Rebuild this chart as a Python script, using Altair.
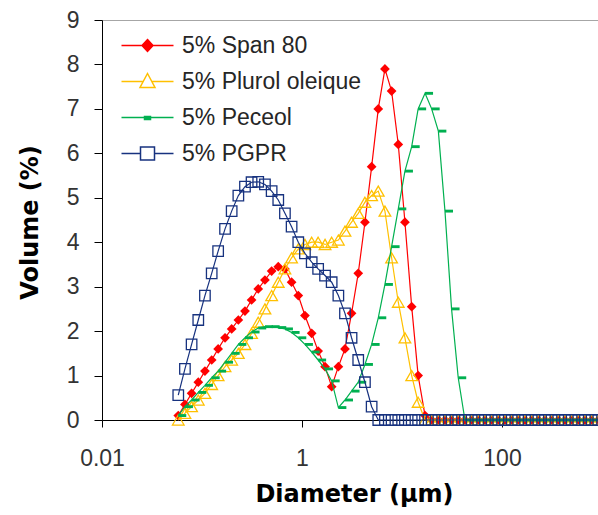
import altair as alt
import pandas as pd

# Diameter classes (µm), log-spaced instrument size classes
diameters = [0.0579, 0.0675, 0.0787, 0.0918, 0.107, 0.125, 0.145, 0.170, 0.198, 0.231,
             0.269, 0.313, 0.365, 0.426, 0.497, 0.579, 0.675, 0.787, 0.918, 1.07,
             1.25, 1.45, 1.70, 1.98, 2.31, 2.69, 3.13, 3.65, 4.26, 4.97,
             5.79, 6.75, 7.87, 9.18, 10.7, 12.5, 14.5, 17.0, 19.8, 23.1,
             26.9, 31.3, 36.5, 42.6, 49.7, 57.9, 67.5, 78.7, 91.8, 107,
             125, 145, 170, 198, 231, 269, 313, 365, 426, 497,
             579, 675, 787, 918]

span80 = [0.1, 0.35, 0.6, 0.85, 1.1, 1.35, 1.6, 1.85, 2.05, 2.25,
          2.45, 2.7, 2.95, 3.15, 3.35, 3.45, 3.4, 3.1, 2.8, 2.35,
          1.95, 1.55, 1.2, 0.75, 1.2, 1.6, 2.4, 3.3, 4.45, 5.7,
          7.0, 7.9, 7.4, 6.2, 4.45, 2.55, 1.0, 0.1, 0, 0,
          0, 0, 0, 0, 0, 0, 0, 0, 0, 0,
          0, 0, 0, 0, 0, 0, 0, 0, 0, 0,
          0, 0, 0, 0]

plurol = [0.0, 0.15, 0.3, 0.45, 0.6, 0.8, 1.0, 1.2, 1.35, 1.5,
          1.7, 1.95, 2.2, 2.5, 2.8, 3.1, 3.4, 3.65, 3.85, 3.95,
          4.0, 4.0, 3.95, 4.0, 4.05, 4.25, 4.45, 4.65, 4.9, 5.05,
          5.15, 4.7, 3.65, 2.65, 1.85, 1.0, 0.4, 0, 0, 0,
          0, 0, 0, 0, 0, 0, 0, 0, 0, 0,
          0, 0, 0, 0, 0, 0, 0, 0, 0, 0,
          0, 0, 0, 0]

peceol = [0.1, 0.3, 0.45, 0.62, 0.78, 0.95, 1.1, 1.3, 1.5, 1.7,
          1.85, 1.98, 2.07, 2.1, 2.1, 2.08, 2.05, 1.97, 1.85, 1.7,
          1.53, 1.35, 1.15, 0.88, 0.28, 0.45, 0.65, 0.85, 1.25, 1.7,
          2.3, 3.05, 3.9, 4.75, 5.6, 6.15, 7.0, 7.35, 7.0, 6.5,
          4.7, 2.5, 0.95, 0, 0, 0, 0, 0, 0, 0,
          0, 0, 0, 0, 0, 0, 0, 0, 0, 0,
          0, 0, 0, 0]

pgpr = [0.56, 1.15, 1.7, 2.25, 2.8, 3.3, 3.8, 4.3, 4.7, 5.05,
        5.25, 5.35, 5.36, 5.3, 5.15, 4.95, 4.65, 4.35, 4.0, 3.75,
        3.55, 3.4, 3.25, 3.1, 2.8, 2.4, 1.85, 1.35, 0.85, 0.3,
        0, 0, 0, 0, 0, 0, 0, 0, 0, 0,
        0, 0, 0, 0, 0, 0, 0, 0, 0, 0,
        0, 0, 0, 0, 0, 0, 0, 0, 0, 0,
        0, 0, 0, 0]

names = ["5% Span 80", "5% Plurol oleique", "5% Peceol", "5% PGPR"]
colors = ["#FF0000", "#FFC000", "#00B050", "#17327F"]
series_vals = [span80, plurol, peceol, pgpr]

rows = []
for nm, vals in zip(names, series_vals):
    for d, v in zip(diameters, vals):
        rows.append({"series": nm, "d": d, "v": v})
df = pd.DataFrame(rows)

x_enc = alt.X("d:Q", scale=alt.Scale(type="log", domain=[0.01, 912]),
              axis=alt.Axis(values=[0.01, 1, 100], format="~g", title="Diameter (µm)",
                            labelFontSize=23, labelFont="Liberation Sans", labelColor="#333333",
                            labelBaseline="alphabetic", labelPadding=38, labelFlush=False,
                            tickSize=7, tickColor="#000000", domainColor="#000000",
                            titleFont="DejaVu Sans", titleFontSize=24, titleFontWeight="bold",
                            titleColor="#000000", titleBaseline="alphabetic", titleY=81, titleX=252,
                            grid=False))
y_enc = alt.Y("v:Q", scale=alt.Scale(domain=[0, 9], nice=False),
              axis=alt.Axis(values=list(range(10)), format="d", title="Volume  (%)",
                            labelFontSize=23, labelFont="Liberation Sans", labelColor="#333333",
                            labelPadding=15, tickSize=8, tickColor="#000000", domainColor="#000000",
                            titleFont="DejaVu Sans", titleFontSize=24, titleFontWeight="bold",
                            titleColor="#000000", titleAngle=270, titleBaseline="middle",
                            titleAlign="center", titleX=-72, titleY=202,
                            grid=True,
                            gridColor={"condition": {"test": "datum.value === 9", "value": "#a6a6a6"},
                                       "value": "transparent"}))

dash_path = "M0,-0.36L2,-0.36L2,0.36L0,0.36Z"
marker_specs = [
    dict(shape="diamond", filled=True, size=95, strokeWidth=1),
    dict(shape="triangle-up", filled=False, size=135, strokeWidth=1.3),
    dict(shape=dash_path, filled=True, size=64, strokeWidth=0),
    dict(shape="square", filled=False, size=110, strokeWidth=1.3),
]

layers = []
for nm, col, ms in zip(names, colors, marker_specs):
    base = alt.Chart(df).transform_filter(alt.datum.series == nm)
    layers.append(base.mark_line(color=col, strokeWidth=1.2).encode(x=x_enc, y=y_enc))
    layers.append(base.mark_point(color=col, opacity=1, **ms).encode(x=x_enc, y=y_enc))

legend_shapes = [
    "M-2.6,0L2.6,0M0,-0.6L0.55,0L0,0.6L-0.55,0Z",
    "M-2.6,0L-0.45,0M0.45,0L2.6,0M0,-0.8L0.75,0.6L-0.75,0.6Z",
    "M-2.6,0L2.6,0M-0.3,-0.1L0.3,-0.1L0.3,0.2L-0.3,0.2Z",
    "M-2.6,0L-0.7,0M0.7,0L2.6,0M-0.7,-0.65L0.7,-0.65L0.7,0.65L-0.7,0.65Z",
]
legend_fills = ["#FF0000", "#FFFFFF", "#00B050", "#FFFFFF"]

leg = alt.Legend(title=None, orient="none", legendX=34, legendY=14, symbolSize=400,
                 symbolStrokeWidth=1.5, labelFontSize=23, labelFont="Liberation Sans",
                 labelColor="#262626", labelLimit=400, rowPadding=12, labelOffset=23,
                 padding=0)
legend_layer = alt.Chart(df).transform_filter(alt.datum.v < -1).mark_point(filled=True, opacity=1).encode(
    x=x_enc, y=y_enc,
    stroke=alt.Stroke("series:N", scale=alt.Scale(domain=names, range=colors), legend=leg),
    fill=alt.Fill("series:N", scale=alt.Scale(domain=names, range=legend_fills), legend=leg),
    shape=alt.Shape("series:N", scale=alt.Scale(domain=names, range=legend_shapes), legend=leg),
)
layers.append(legend_layer)

chart = alt.layer(*layers).properties(
    width=496, height=400,
    autosize=alt.AutoSizeParams(type="none"),
    padding={"left": 102, "top": 20, "right": 0, "bottom": 95},
).configure_view(stroke=None).configure(background="white")

chart.save("out.html", embed_options={"renderer": "svg", "actions": False})
